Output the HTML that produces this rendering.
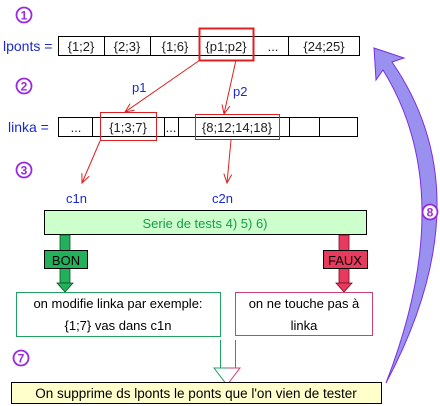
<!DOCTYPE html>
<html><head><meta charset="utf-8"><style>
html,body{margin:0;padding:0;background:#fff;}
svg{display:block;}
text{font-family:"Liberation Sans",sans-serif;}
</style></head><body>
<svg width="440" height="406" viewBox="0 0 440 406" xmlns="http://www.w3.org/2000/svg">
<defs>
<marker id="ar" markerWidth="10" markerHeight="10" refX="9" refY="5" orient="auto" markerUnits="userSpaceOnUse"><path d="M0,1 L9,5 L0,9" fill="none" stroke="#e02020" stroke-width="1"/></marker>
</defs>
<g fill="none" stroke="#9a2ae0" stroke-width="1.8">
<circle cx="24" cy="15" r="7.5"/><circle cx="24" cy="86" r="7.5"/><circle cx="24" cy="170" r="7.5"/><circle cx="21" cy="358" r="7.5"/>
</g>
<g fill="#9a2ae0" font-size="12" font-weight="bold" text-anchor="middle">
<text x="24" y="19.5">1</text><text x="24" y="90.5">2</text><text x="24" y="174.5">3</text><text x="21" y="362.5">7</text>
</g>
<text x="3" y="51" font-size="14" fill="#1a2ad0">lponts =</text>
<rect x="58.5" y="36.5" width="301" height="19" fill="#fff" stroke="#000"/>
<g stroke="#000"><line x1="104.5" y1="36" x2="104.5" y2="56"/><line x1="150.5" y1="36" x2="150.5" y2="56"/><line x1="199.5" y1="36" x2="199.5" y2="56"/><line x1="253.5" y1="36" x2="253.5" y2="56"/><line x1="288.5" y1="36" x2="288.5" y2="56"/></g>
<g font-size="13" fill="#222" text-anchor="middle">
<text x="81" y="51">{1;2}</text><text x="127" y="51">{2;3}</text><text x="175" y="51">{1;6}</text><text x="226" y="51">{p1;p2}</text><text x="273" y="51">...</text><text x="324" y="51">{24;25}</text>
</g>
<rect x="199.5" y="28.5" width="54" height="32" fill="none" stroke="#e02020" stroke-width="2"/>
<text x="8" y="132" font-size="14" fill="#1a2ad0">linka =</text>
<rect x="58.5" y="117.5" width="299" height="19" fill="#fff" stroke="#000"/>
<g stroke="#000"><line x1="92.5" y1="117" x2="92.5" y2="137"/><line x1="164.5" y1="117" x2="164.5" y2="137"/><line x1="178.5" y1="117" x2="178.5" y2="137"/><line x1="289.5" y1="117" x2="289.5" y2="137"/><line x1="319.5" y1="117" x2="319.5" y2="137"/></g>
<g font-size="13" fill="#222" text-anchor="middle">
<text x="76" y="132">...</text><text x="128" y="132">{1;3;7}</text><text x="171" y="132">...</text><text x="237" y="132">{8;12;14;18}</text>
</g>
<rect x="100.5" y="112.5" width="56" height="28" fill="none" stroke="#e02020"/>
<rect x="195.5" y="114.5" width="84" height="25" fill="none" stroke="#e02020"/>
<g stroke="#e02020" stroke-width="1" marker-end="url(#ar)">
<line x1="200" y1="60" x2="125" y2="112"/>
<line x1="236" y1="60" x2="224" y2="114"/>
<line x1="100" y1="141" x2="82" y2="183"/>
<line x1="231" y1="140" x2="227" y2="183"/>
</g>
<g font-size="13" fill="#1a2ad0"><text x="132" y="92">p1</text><text x="233" y="96">p2</text><text x="66" y="203">c1n</text><text x="212" y="203">c2n</text></g>
<rect x="44.5" y="210.5" width="322" height="24" fill="#ccffcc" stroke="#000"/>
<text x="205" y="228" font-size="13" fill="#1a9950" text-anchor="middle">Serie de tests 4) 5) 6)</text>
<rect x="60" y="235" width="10" height="48" fill="#22b05a" stroke="#0a5028" stroke-width="0.8"/>
<path d="M57,283 L73,283 L65,292 Z" fill="#22b05a" stroke="#0a5028" stroke-width="0.8"/>
<rect x="44.5" y="250.5" width="43" height="18" fill="#22b05a" stroke="#000"/>
<text x="66" y="265" font-size="13" fill="#000" text-anchor="middle">BON</text>
<rect x="339" y="235" width="10" height="48" fill="#e83a5e" stroke="#7a0a20" stroke-width="0.8"/>
<path d="M336,283 L352,283 L344,292 Z" fill="#e83a5e" stroke="#7a0a20" stroke-width="0.8"/>
<rect x="323.5" y="250.5" width="44" height="18" fill="#e83a5e" stroke="#000"/>
<text x="345" y="265" font-size="13" fill="#000" text-anchor="middle">FAUX</text>
<rect x="16.5" y="292.5" width="204" height="44" fill="#fff" stroke="#22a060"/>
<text x="118" y="308" font-size="13" fill="#000" text-anchor="middle">on modifie linka par exemple:</text>
<text x="118" y="330" font-size="13" fill="#000" text-anchor="middle">{1;7} vas dans c1n</text>
<rect x="235.5" y="292.5" width="137" height="43" fill="#fff" stroke="#d04070"/>
<text x="304" y="308" font-size="13" fill="#000" text-anchor="middle">on ne touche pas à</text>
<text x="304" y="330" font-size="13" fill="#000" text-anchor="middle">linka</text>
<line x1="220.5" y1="340" x2="220.5" y2="368" stroke="#22a060"/>
<line x1="235.5" y1="340" x2="235.5" y2="368" stroke="#d04070"/>
<path d="M227,368 L214,368 L227,385" fill="none" stroke="#22a060"/>
<path d="M227,368 L240,368 L227,385" fill="none" stroke="#d04070"/>
<rect x="11.5" y="382.5" width="370" height="21" fill="#ffffcc" stroke="#000"/>
<text x="196" y="398" font-size="13.5" fill="#000" text-anchor="middle">On supprime ds lponts le ponts que l'on vien de tester</text>
<path d="M386,383 Q485,197 392,62 L404,58 L374,48 L376,80 L383,70 Q459.5,193.5 386,383 Z" fill="#9a90f0" stroke="#7a30e0" stroke-width="1"/>
<circle cx="430" cy="212" r="7.5" fill="#fff" stroke="#9a2ae0" stroke-width="1.8"/>
<text x="430" y="216.5" font-size="12" font-weight="bold" fill="#9a2ae0" text-anchor="middle">8</text>
</svg>
</body></html>
